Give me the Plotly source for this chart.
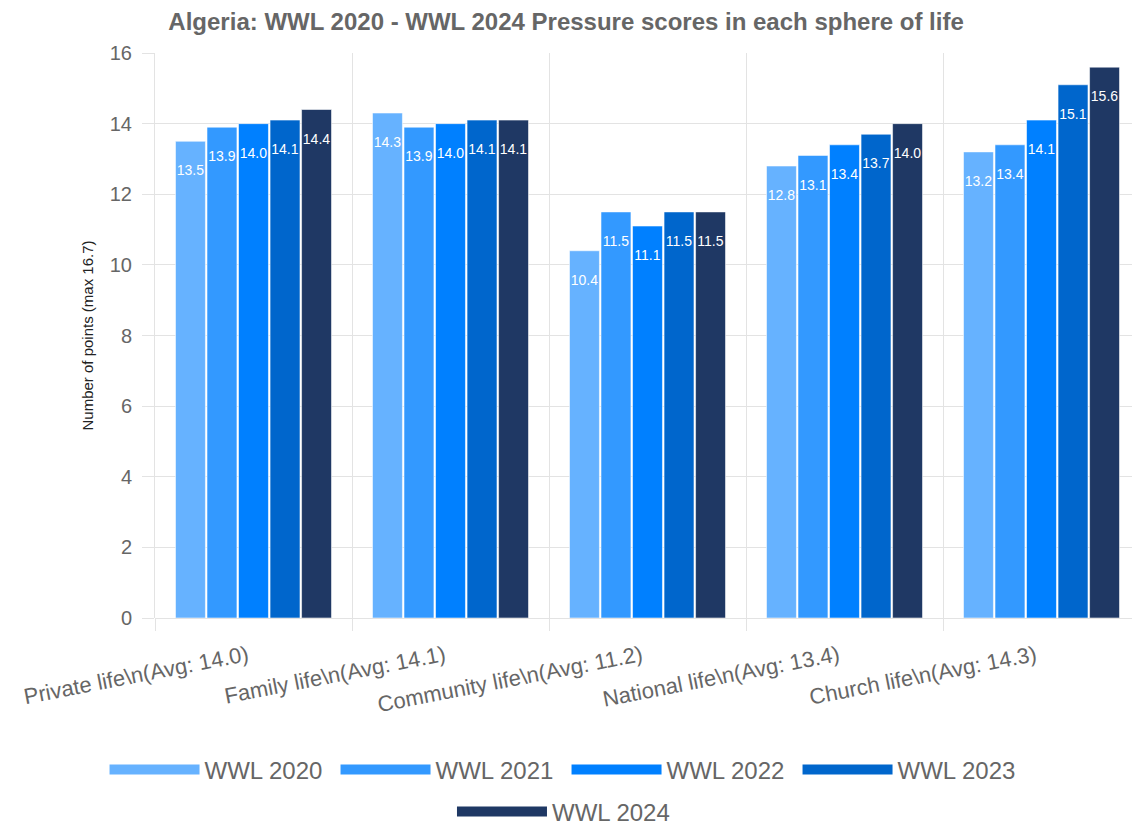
import plotly.graph_objects as go

categories = [
    "Private life\\n(Avg: 14.0)",
    "Family life\\n(Avg: 14.1)",
    "Community life\\n(Avg: 11.2)",
    "National life\\n(Avg: 13.4)",
    "Church life\\n(Avg: 14.3)",
]
series_names = ["WWL 2020", "WWL 2021", "WWL 2022", "WWL 2023", "WWL 2024"]
wwl2020 = [13.5, 14.3, 10.4, 12.8, 13.2]
wwl2021 = [13.9, 13.9, 11.5, 13.1, 13.4]
wwl2022 = [14.0, 14.0, 11.1, 13.4, 14.1]
wwl2023 = [14.1, 14.1, 11.5, 13.7, 15.1]
wwl2024 = [14.4, 14.1, 11.5, 14.0, 15.6]
series_values = [wwl2020, wwl2021, wwl2022, wwl2023, wwl2024]
colors = ["#66b2ff", "#3399ff", "#0080ff", "#0066cc", "#1f3864"]

FONT = "Liberation Sans, Arial, sans-serif"
fig = go.Figure()
for i, (name, vals, col) in enumerate(zip(series_names, series_values, colors)):
    fig.add_trace(go.Bar(
        x=categories, y=vals, name=name,
        marker=dict(color=col, line=dict(color="rgba(255,255,255,0.55)", width=1)),
        text=["\u00a0<br>%.1f" % v for v in vals],
        textposition="inside", insidetextanchor="end", textangle=0,
        textfont=dict(color="white", size=14, family=FONT),
        hoverinfo="skip", showlegend=False,
    ))
# legend entries (wide swatches like the reference)
for i, (name, col) in enumerate(zip(series_names, colors)):
    fig.add_trace(go.Scatter(
        x=[None], y=[None], mode="lines", name=name,
        line=dict(color=col, width=25),
        hoverinfo="skip",
        legend="legend" if i < 4 else "legend2",
    ))

grid = "#e3e3e3"
fig.update_layout(
    width=1132, height=822,
    margin=dict(l=147, r=0, t=45, b=212, autoexpand=False),
    paper_bgcolor="white", plot_bgcolor="white",
    barmode="group", bargap=0.2, bargroupgap=0.05,
    uniformtext=dict(minsize=14, mode="show"),
    font=dict(family=FONT, color="#666666"),
    title=dict(text="<b>Algeria: WWL 2020 - WWL 2024 Pressure scores in each sphere of life</b>",
               x=0.493, xref="container", xanchor="center", y=0.984, yanchor="middle",
               font=dict(size=24, color="#666666", family=FONT)),
    xaxis=dict(tickson="boundaries", showgrid=True, gridcolor=grid, gridwidth=1,
               ticks="outside", ticklen=12, tickcolor=grid,
               tickangle=-11, tickfont=dict(size=22, color="#666666"),
               ticklabelstandoff=20, ticklabelshift=-6,
               showline=False, zeroline=False, automargin=False),
    yaxis=dict(range=[0, 16], dtick=2, showgrid=True, gridcolor=grid, gridwidth=1,
               ticks="outside", ticklen=12, tickcolor=grid,
               tickfont=dict(size=20, color="#666666"), ticklabelstandoff=6,
               zeroline=True, zerolinecolor=grid, zerolinewidth=1,
               showline=True, linecolor=grid, linewidth=1, automargin=False,
               title=dict(text="Number of points (max 16.7)", standoff=12,
                          font=dict(size=15, color="#222222"))),
    legend=dict(orientation="h", x=0.4178, xanchor="center", y=-0.269, yanchor="middle",
                itemwidth=90, entrywidth=126, font=dict(size=24, color="#666666")),
    legend2=dict(orientation="h", x=0.4147, xanchor="center", y=-0.343, yanchor="middle",
                 itemwidth=90, font=dict(size=24, color="#666666")),
)

fig.write_html("out.html")
